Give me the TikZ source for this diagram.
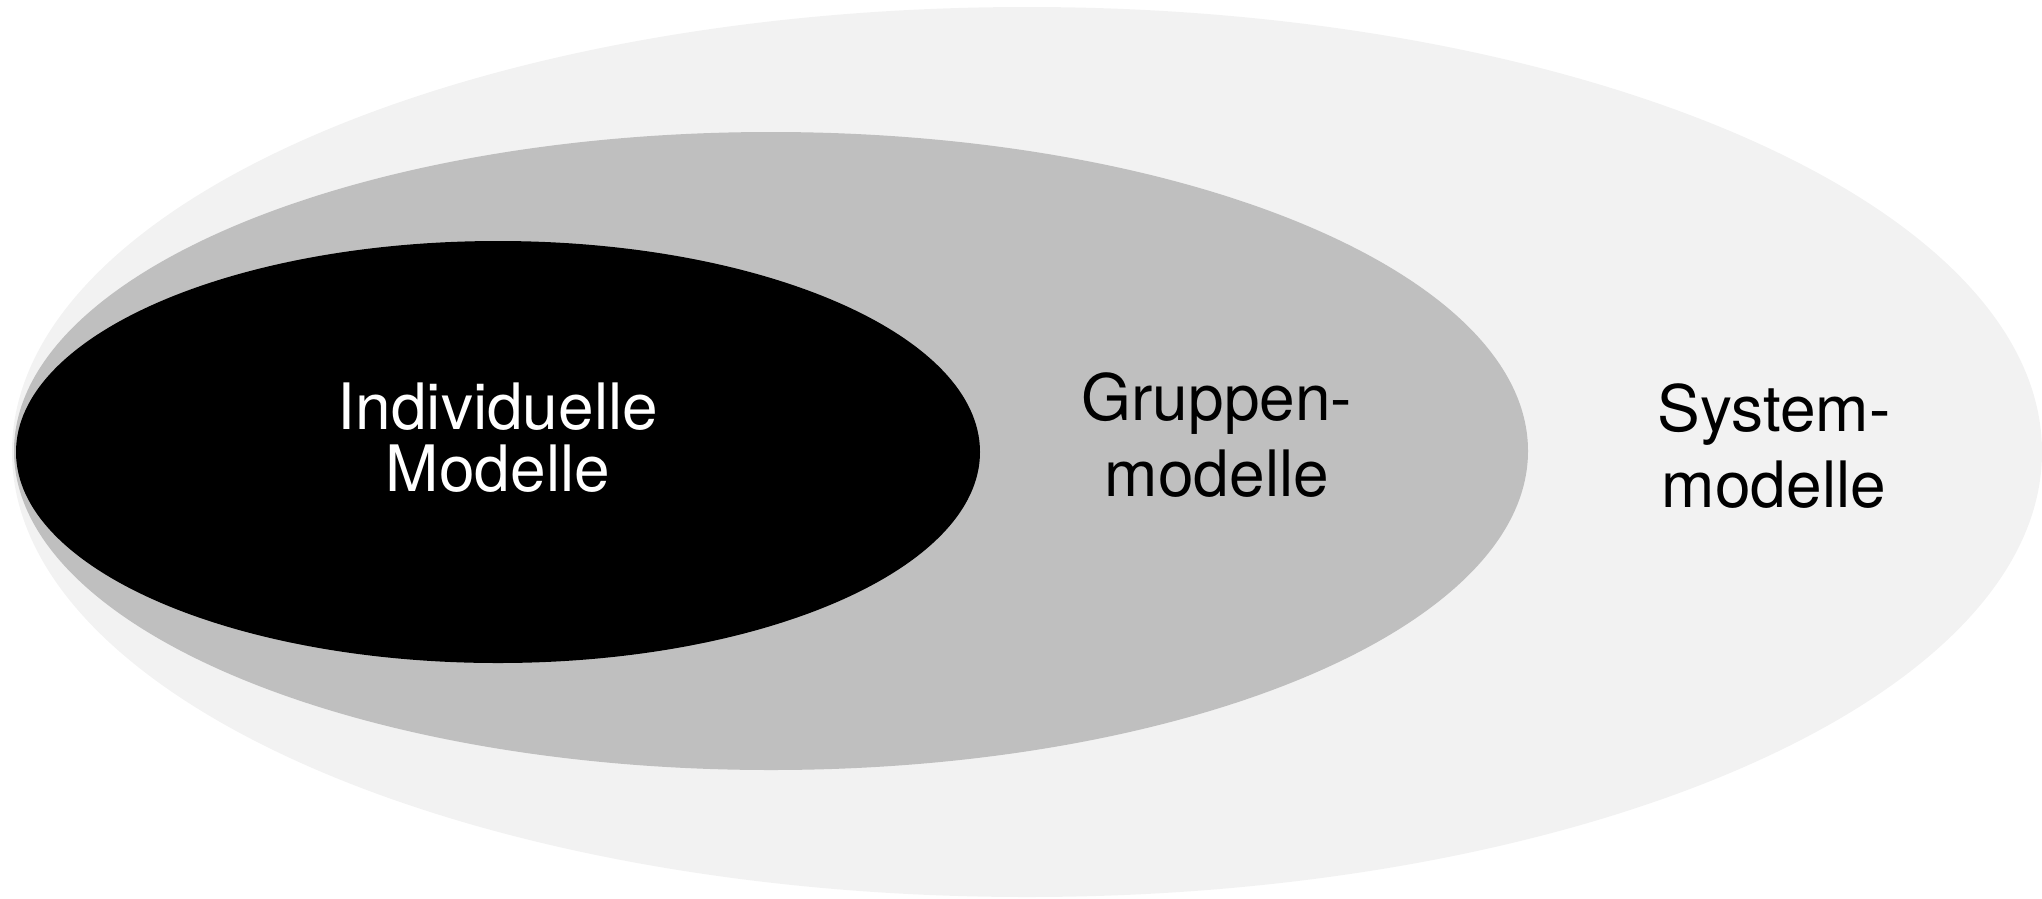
\documentclass[tikz,border=0pt]{standalone}
\usepackage{fontspec}
\setmainfont{TeX Gyre Heros}
\definecolor{outerfill}{HTML}{F2F2F2}
\definecolor{midfill}{HTML}{BFBFBF}
\begin{document}
\begin{tikzpicture}[x=1pt,y=-1pt,
  lbl/.style={align=center,inner sep=0pt,anchor=base},
  tight/.style={font=\fontsize{64}{62}\selectfont},
  loose/.style={font=\fontsize{64}{76}\selectfont}]
\useasboundingbox (0,0) rectangle (2042,898);
\fill[outerfill] (1027,452) ellipse [x radius=1015, y radius=445];
\fill[midfill] (771,451) ellipse [x radius=757, y radius=319];
\fill[black] (498,452) ellipse [x radius=482, y radius=211];
\node[lbl,tight,text=white] (ind) at (498,491) {Individuelle\\Modelle};
\node[lbl,loose] (grp) at (1217,496) {Gruppen-\\modelle};
\node[lbl,loose] (sys) at (1774,507) {System-\\modelle};
\end{tikzpicture}
\end{document}
